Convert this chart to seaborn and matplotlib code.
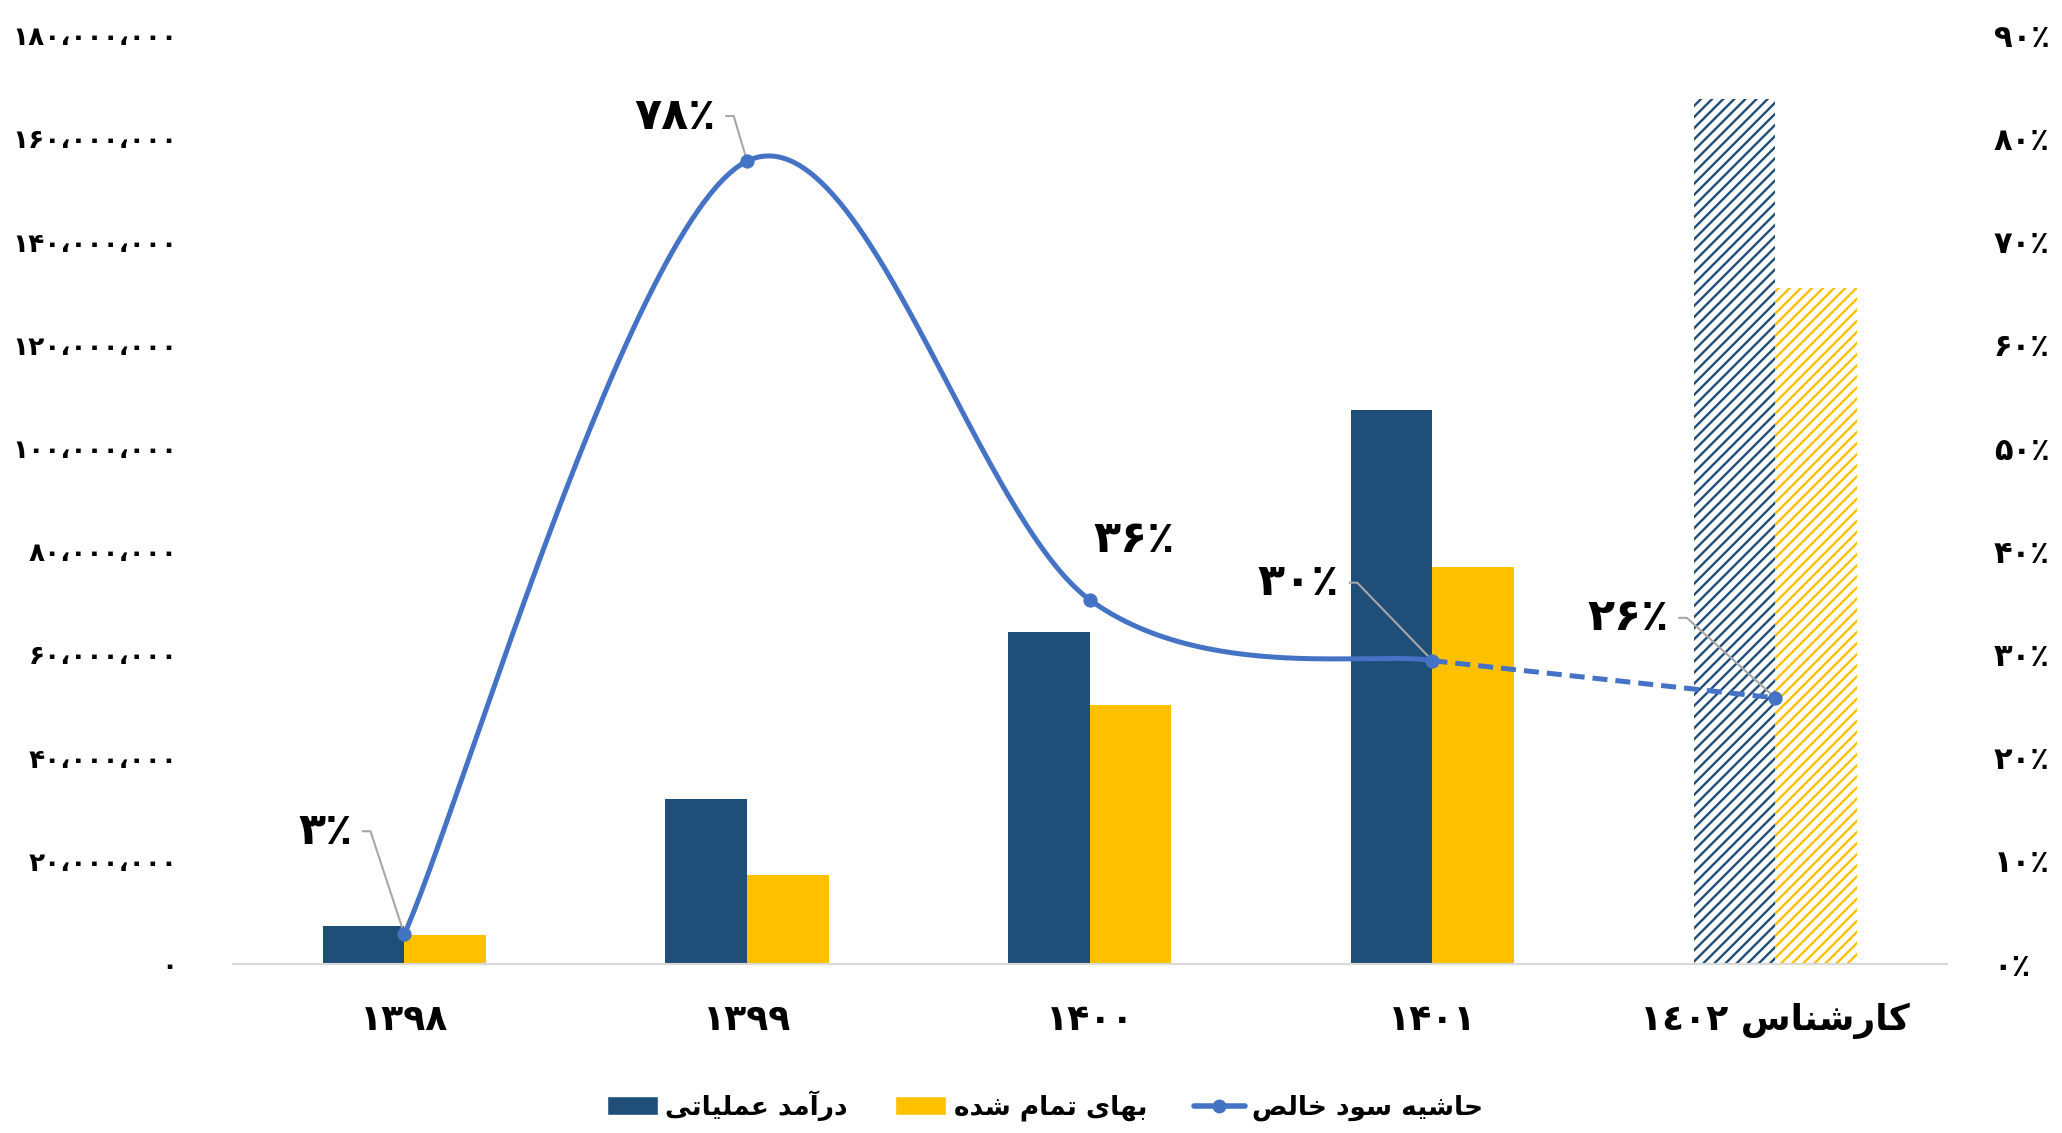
import numpy as np
import pandas as pd
import seaborn as sns
import matplotlib
matplotlib.use('Agg')
import matplotlib.pyplot as plt
from matplotlib.patches import Patch
from matplotlib.lines import Line2D

# chart data
years = ['۱۳۹۸', '۱۳۹۹', '۱۴۰۰', '۱۴۰۱', 'کارشناس ۱٤۰۲']
revenue = [7.4e6, 32.1e6, 64.3e6, 107.4e6, 167.6e6]
cost = [5.6e6, 17.3e6, 50.3e6, 77.0e6, 131.1e6]
margin = [2.9, 77.8, 35.3, 29.4, 25.8]
margin_labels = ['۳٪', '۷۸٪', '۳۶٪', '۳۰٪', '۲۶٪']
series_names = ['درآمد عملیاتی', 'بهای تمام شده', 'حاشیه سود خالص']
left_ticks = list(range(0, 180000001, 20000000))
right_ticks = list(range(0, 91, 10))

NAVY = '#1F4E79'
GOLD = '#FFC000'
BLUE = '#4472C4'
LEADER = '#A6A6A6'

# matplotlib has no arabic shaping, so map letters to presentation forms by hand
FORMS = {
    'ا': (0xFE8D, 0xFE8E), 'آ': (0xFE81, 0xFE82), 'د': (0xFEA9, 0xFEAA),
    'ر': (0xFEAD, 0xFEAE), 'و': (0xFEED, 0xFEEE),
    'ب': (0xFE8F, 0xFE90, 0xFE91, 0xFE92), 'ت': (0xFE95, 0xFE96, 0xFE97, 0xFE98),
    'ح': (0xFEA1, 0xFEA2, 0xFEA3, 0xFEA4), 'خ': (0xFEA5, 0xFEA6, 0xFEA7, 0xFEA8),
    'س': (0xFEB1, 0xFEB2, 0xFEB3, 0xFEB4), 'ش': (0xFEB5, 0xFEB6, 0xFEB7, 0xFEB8),
    'ص': (0xFEB9, 0xFEBA, 0xFEBB, 0xFEBC), 'ع': (0xFEC9, 0xFECA, 0xFECB, 0xFECC),
    'ل': (0xFEDD, 0xFEDE, 0xFEDF, 0xFEE0), 'م': (0xFEE1, 0xFEE2, 0xFEE3, 0xFEE4),
    'ن': (0xFEE5, 0xFEE6, 0xFEE7, 0xFEE8), 'ه': (0xFEE9, 0xFEEA, 0xFEEB, 0xFEEC),
    'ی': (0xFBFC, 0xFBFD, 0xFBFE, 0xFBFF), 'ک': (0xFB8E, 0xFB8F, 0xFB90, 0xFB91),
}


def shape_word(word):
    if not any(ch in FORMS for ch in word):
        return word  # digits stay left-to-right
    out = []
    for i, ch in enumerate(word):
        f = FORMS.get(ch)
        if f is None:
            out.append(ch)
            continue
        prev = word[i - 1] if i > 0 else ''
        nxt = word[i + 1] if i + 1 < len(word) else ''
        join_prev = prev in FORMS and len(FORMS[prev]) == 4
        join_next = len(f) == 4 and nxt in FORMS
        if join_prev and join_next:
            c = f[3]
        elif join_prev:
            c = f[1]
        elif join_next:
            c = f[2]
        else:
            c = f[0]
        out.append(chr(c))
    return ''.join(out)[::-1]


def fa(text):
    return ' '.join(shape_word(w) for w in text.split(' ')[::-1])


FA_DIGITS = str.maketrans('0123456789,', '۰۱۲۳۴۵۶۷۸۹،')


def catmull_rom(xs, ys, n=60):
    # excel-like smoothed line through the points
    pts = np.column_stack([xs, ys]).astype(float)
    ext = np.vstack([pts[0], pts, pts[-1]])
    t = np.linspace(0, 1, n)[:, None]
    h00 = 2 * t**3 - 3 * t**2 + 1
    h10 = t**3 - 2 * t**2 + t
    h01 = -2 * t**3 + 3 * t**2
    h11 = t**3 - t**2
    segs = []
    for i in range(1, len(ext) - 2):
        p0, p1, p2, p3 = ext[i - 1], ext[i], ext[i + 1], ext[i + 2]
        m1 = (p2 - p0) / 2
        m2 = (p3 - p1) / 2
        segs.append(h00 * p1 + h10 * m1 + h01 * p2 + h11 * m2)
    return np.vstack(segs)


sns.set_theme(style='white')
plt.rcParams['font.family'] = ['DejaVu Sans']
plt.rcParams['font.weight'] = 'bold'
plt.rcParams['text.color'] = 'black'
plt.rcParams['xtick.color'] = 'black'
plt.rcParams['ytick.color'] = 'black'
plt.rcParams['hatch.linewidth'] = 1.7

fig = plt.figure(figsize=(20.62, 11.33), dpi=100)
ax = fig.add_axes([0.113, 0.149, 0.831, 0.820])

df = pd.DataFrame({
    'year': years * 2,
    'value': revenue + cost,
    'kind': ['rev'] * len(years) + ['cost'] * len(years),
})
sns.barplot(data=df, x='year', y='value', hue='kind', order=years, hue_order=['rev', 'cost'],
            palette=[NAVY, GOLD], width=0.476, saturation=1, linewidth=0, ax=ax, legend=False)

# last year is an estimate -> hatched bars
for cont, col in zip(ax.containers, [NAVY, GOLD]):
    bar = cont.patches[-1]
    bar.set_facecolor('white')
    bar.set_edgecolor(col)
    bar.set_linewidth(0)
    bar.set_hatch('///')

ax.set_xlim(-0.5, 4.5)
ax.set_ylim(0, 180e6)
ax.set_yticks(left_ticks, [f'{v:,}'.translate(FA_DIGITS) for v in left_ticks])
ax.set_xticks(range(len(years)), [fa(y) for y in years])
ax.set_xlabel('')
ax.set_ylabel('')
for s in ['left', 'right', 'top']:
    ax.spines[s].set_visible(False)
ax.spines['bottom'].set_color('#D9D9D9')
ax.spines['bottom'].set_linewidth(1.5)
ax.tick_params(axis='y', length=0, labelsize=19, pad=40)
ax.tick_params(axis='x', length=0, labelsize=26, pad=28)
ax.grid(False)

# profit margin on the secondary axis
ax2 = ax.twinx()
ax2.set_ylim(0, 90)
ax2.set_yticks(right_ticks, [f'{v}٪'.translate(FA_DIGITS) for v in right_ticks])
for s in ax2.spines.values():
    s.set_visible(False)
ax2.tick_params(axis='y', length=0, labelsize=22, pad=34)
ax2.grid(False)

xs = np.arange(len(years))
curve = catmull_rom(xs[:4], margin[:4])
ax2.plot(curve[:, 0], curve[:, 1], color=BLUE, lw=3.6, solid_capstyle='round')
sns.lineplot(x=xs[3:], y=margin[3:], color=BLUE, lw=3.6, linestyle=(0, (3, 1.6)), ax=ax2)
sns.scatterplot(x=xs, y=margin, color=BLUE, edgecolor=BLUE, s=90, ax=ax2, zorder=5)

# data labels with excel style leader lines
label_offsets = [(-79, 103), (-72, 45), (44, 60), (-134, 78), (-147, 80)]
has_leader = [True, True, False, True, True]
for i, (lab, off, lead) in enumerate(zip(margin_labels, label_offsets, has_leader)):
    arrow = None
    if lead:
        arrow = dict(arrowstyle='-', color=LEADER, lw=1.5, relpos=(1, 0.5), shrinkA=5, shrinkB=0,
                     connectionstyle='arc,angleA=0,angleB=0,armA=18,armB=0,rad=0')
    ax2.annotate(lab, xy=(xs[i], margin[i]), xytext=off, textcoords='offset pixels',
                 ha='center', va='center', fontsize=32, fontweight='bold', arrowprops=arrow)

handles = [Patch(facecolor=NAVY), Patch(facecolor=GOLD),
           Line2D([], [], color=BLUE, lw=4, marker='o', ms=9)]
fig.legend(handles, [fa(n) for n in series_names], loc='center', bbox_to_anchor=(0.507, 0.024),
           ncol=3, frameon=False, fontsize=19, handlelength=1.9, handletextpad=0.3, columnspacing=1.8)

plt.savefig('out.png', dpi=100)
plt.close()
